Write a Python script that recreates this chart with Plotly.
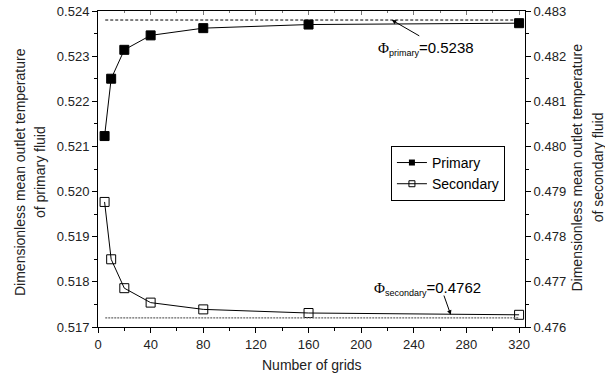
import plotly.graph_objects as go

grids = [5, 10, 20, 40, 80, 160, 320]
primary = [0.52123, 0.52250, 0.52314, 0.52346, 0.52362, 0.52370, 0.52373]
secondary = [0.47877, 0.47750, 0.47686, 0.47654, 0.47639, 0.47631, 0.47627]
phi_primary = 0.5238
phi_secondary = 0.4762
ref_x = [5.5, 320]
left_ticks = [0.517, 0.518, 0.519, 0.520, 0.521, 0.522, 0.523, 0.524]
right_ticks = [0.476, 0.477, 0.478, 0.479, 0.480, 0.481, 0.482, 0.483]
x_ticks = [0, 40, 80, 120, 160, 200, 240, 280, 320]

FONT = "Liberation Sans, Arial, sans-serif"
TXT = "#222"

fig = go.Figure()
fig.add_trace(go.Scatter(
    x=grids, y=primary, name="Primary", mode="lines+markers", showlegend=False,
    line=dict(color="black", width=1),
    marker=dict(symbol="square", size=9, color="black", line=dict(color="black", width=1)),
))
fig.add_trace(go.Scatter(
    x=grids, y=secondary, name="Secondary", mode="lines+markers", yaxis="y2", showlegend=False,
    line=dict(color="black", width=1),
    marker=dict(symbol="square-open", size=9, color="black", line=dict(width=1)),
))
# legend entries (smaller symbols as in the reference)
fig.add_trace(go.Scatter(
    x=[None], y=[None], name="Primary", mode="lines+markers",
    line=dict(color="black", width=1),
    marker=dict(symbol="square", size=6, color="black"),
))
fig.add_trace(go.Scatter(
    x=[None], y=[None], name="Secondary", mode="lines+markers",
    line=dict(color="black", width=1),
    marker=dict(symbol="square-open", size=6, color="black", line=dict(width=1)),
))

fig.add_shape(type="line", xref="x", yref="y", x0=ref_x[0], x1=ref_x[1],
              y0=phi_primary, y1=phi_primary, line=dict(color="black", width=1, dash="3px,2px"))
fig.add_shape(type="line", xref="x", yref="y2", x0=ref_x[0], x1=ref_x[1],
              y0=phi_secondary, y1=phi_secondary, line=dict(color="#666", width=1.2, dash="2px,1px"))

# arrows
fig.add_annotation(x=223.3, y=phi_primary, xref="x", yref="y", ax=245.3, ay=0.52343,
                   axref="x", ayref="y", text="", showarrow=True, arrowhead=2,
                   arrowsize=0.9, arrowwidth=1, arrowcolor="black")
fig.add_annotation(x=268.1, y=0.47627, xref="x", yref="y2", ax=262.5, ay=0.47673,
                   axref="x", ayref="y2", text="", showarrow=True, arrowhead=2,
                   arrowsize=0.9, arrowwidth=1, arrowcolor="black")
# labels
PHI = "<span style=\"font-family:'Liberation Serif'\">Φ</span>"
SUB = "<sub><span style=\"font-size:9px\">{}</span></sub>"
fig.add_annotation(x=211.0, y=0.52317, xref="x", yref="y", xanchor="left", yanchor="middle",
                   text=PHI + SUB.format("primary") + "=0.5238", showarrow=False,
                   font=dict(family=FONT, size=15, color="black"))
fig.add_annotation(x=208.6, y=0.47685, xref="x", yref="y2", xanchor="left", yanchor="middle",
                   text=PHI + SUB.format("secondary") + "=0.4762", showarrow=False,
                   font=dict(family=FONT, size=15, color="black"))

# axis titles as annotations
tfont = dict(family=FONT, size=14, color=TXT)
fig.add_annotation(x=-0.183, y=0.49, xref="paper", yref="paper", textangle=-90,
                   xanchor="center", yanchor="middle",
                   text="Dimensionless mean outlet temperature", showarrow=False, font=tfont)
fig.add_annotation(x=-0.136, y=0.49, xref="paper", yref="paper", textangle=-90,
                   xanchor="center", yanchor="middle",
                   text="of primary fluid", showarrow=False, font=tfont)
fig.add_annotation(x=1.122, y=0.505, xref="paper", yref="paper", textangle=-90,
                   xanchor="center", yanchor="middle",
                   text="Dimensionless mean outlet temperature", showarrow=False, font=tfont)
fig.add_annotation(x=1.173, y=0.505, xref="paper", yref="paper", textangle=-90,
                   xanchor="center", yanchor="middle",
                   text="of secondary fluid", showarrow=False, font=tfont)
fig.add_annotation(x=0.5, y=-0.12, xref="paper", yref="paper", yanchor="middle",
                   text="Number of grids", showarrow=False, font=tfont)

axis_common = dict(showgrid=False, zeroline=False, showline=True, linecolor="black",
                   linewidth=1, ticks="outside", ticklen=5, tickcolor="black", automargin=False,
                   ticklabeloverflow="allow",
                   tickfont=dict(family=FONT, size=13, color=TXT))

fig.update_layout(
    width=605, height=379,
    margin=dict(l=98, r=80, t=11, b=52),
    paper_bgcolor="white", plot_bgcolor="white",
    font=dict(family=FONT, color=TXT),
    showlegend=True,
    legend=dict(x=0.686, y=0.573, xanchor="left", yanchor="top",
                bordercolor="black", borderwidth=1, bgcolor="white",
                font=dict(family=FONT, size=14, color="black"),
                tracegroupgap=0, itemsizing="trace"),
    xaxis=dict(range=[0, 324.5], tickvals=x_ticks,
               minor=dict(ticks="outside", ticklen=3, tickcolor="black", dtick=20, tick0=0),
               **axis_common),
    xaxis2=dict(range=[0, 324.5], overlaying="x", side="top", showline=True, linecolor="black",
                ticks="inside", ticklen=4, tickcolor="#777", tickvals=x_ticks, showticklabels=False,
                showgrid=False, zeroline=False, automargin=False,
                minor=dict(ticks="inside", ticklen=2, tickcolor="#777", dtick=20, tick0=0)),
    yaxis=dict(range=[0.517, 0.524], tickvals=left_ticks, tickformat=".3f",
               minor=dict(ticks="outside", ticklen=3, tickcolor="black", dtick=0.0005, tick0=0.517),
               **axis_common),
    yaxis2=dict(range=[0.476, 0.483], tickvals=right_ticks, tickformat=".3f", overlaying="y", side="right",
                minor=dict(ticks="outside", ticklen=3, tickcolor="black", dtick=0.0005, tick0=0.476),
                **axis_common),
)
fig.add_trace(go.Scatter(x=[None], y=[None], xaxis="x2", showlegend=False, hoverinfo="skip"))

# remove the default 8px page margin so the figure fills the window exactly
fig.write_html("out.html", config={"displayModeBar": False},
               post_script="document.body.style.margin='0';document.body.style.overflow='hidden';")
